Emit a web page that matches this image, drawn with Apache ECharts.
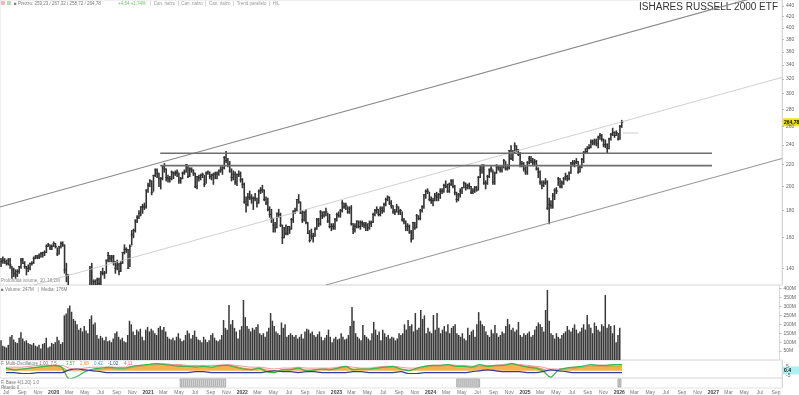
<!DOCTYPE html>
<html><head><meta charset="utf-8">
<script src="https://cdn.jsdelivr.net/npm/echarts@6/dist/echarts.min.js"></script>
<style>html,body{margin:0;padding:0;background:#fff}#c{width:799px;height:395px}</style>
</head><body><div id="c"></div>
<script>
// ---------- DATA ----------
const weekStart = '2019-06-26';   // first weekly bar (one bar per week)
const high = [146,147,146,145,146,146,141,140,139,139,141,146,146,144,141,142,143,144,147,148,148,149,150,150,151,155,156,155,155,157,156,153,154,157,157,155,143,136,115,110,108,117,119,117,123,122,121,122,126,141,143,133,133,134,134,138,140,138,145,150,148,148,148,144,145,143,144,150,155,153,152,155,165,166,173,176,180,183,185,186,197,203,206,205,210,216,216,212,208,219,221,216,210,209,214,213,214,215,212,208,213,215,220,219,217,217,215,212,209,210,211,212,210,213,214,213,211,212,213,213,215,218,218,228,233,226,223,216,214,213,211,214,213,207,203,191,194,196,193,191,194,190,197,199,201,197,191,190,183,181,174,171,178,181,178,169,167,169,168,168,174,180,182,189,193,187,180,179,181,171,165,166,163,167,174,174,180,179,179,182,178,177,170,170,174,178,179,181,188,186,186,183,183,184,170,170,172,172,172,172,171,171,170,172,172,178,181,183,181,183,183,186,190,192,191,188,184,181,185,183,181,179,174,172,170,169,165,171,171,177,176,181,184,193,197,198,195,191,190,194,195,194,198,198,202,205,202,203,206,206,201,195,194,198,199,204,203,202,203,200,198,200,200,209,219,220,220,205,210,216,218,215,213,220,219,218,219,225,223,220,234,239,234,242,239,235,232,223,222,218,223,228,228,226,225,224,217,214,205,205,207,205,190,188,194,198,199,208,207,205,208,212,210,213,222,224,224,226,223,219,226,233,236,238,240,245,245,246,246,249,252,251,246,245,241,247,252,258,254,255,252,261,267];
const low = [141,143,143,142,142,140,134,135,134,135,137,140,143,140,136,138,139,142,143,146,146,146,147,147,148,150,154,152,152,154,153,148,149,153,154,137,132,117,92,96,100,104,112,110,113,115,112,114,120,123,127,124,128,128,129,130,136,134,137,144,144,144,142,137,139,136,138,143,149,150,140,141,155,160,164,171,174,176,178,181,182,195,200,193,196,209,208,200,198,206,213,205,204,204,206,207,210,209,203,203,207,211,213,208,209,213,210,199,198,205,206,208,200,203,211,207,206,202,207,207,210,213,211,216,222,218,213,205,206,202,201,209,204,199,186,179,184,189,186,181,188,183,186,194,195,188,185,180,175,171,164,164,167,175,168,156,160,162,162,163,166,171,178,180,186,178,171,172,170,163,157,159,157,161,166,168,169,174,175,176,171,167,165,166,166,172,175,175,179,182,181,178,178,169,163,164,167,167,166,168,167,165,165,166,168,171,176,178,176,176,178,179,184,188,185,182,178,177,179,177,177,172,170,165,165,163,157,159,166,167,173,173,179,182,190,194,188,186,184,188,188,188,190,194,195,199,195,195,201,199,193,187,188,191,194,199,197,198,198,194,194,195,196,197,208,212,202,198,202,208,213,202,202,212,215,213,213,217,215,215,216,225,224,232,233,229,218,218,214,211,211,221,222,219,220,215,208,202,198,200,202,181,170,182,182,189,194,201,199,199,202,206,205,206,212,219,218,221,212,213,217,222,231,232,236,237,240,240,239,237,246,244,238,237,232,236,245,250,248,250,245,246,259];
const close = [144,145,144,143,145,142,139,137,136,138,141,145,143,141,140,140,143,143,146,147,148,147,149,150,150,154,155,153,154,156,154,149,154,156,155,139,136,119,100,107,102,116,116,113,121,119,114,121,123,140,128,132,130,133,131,137,137,137,145,148,146,147,144,140,142,138,143,150,152,152,140,154,162,165,172,175,178,183,183,183,197,201,205,195,210,215,212,207,207,218,216,208,207,207,213,212,212,213,205,207,212,213,220,209,216,215,212,200,209,208,210,211,202,212,213,209,210,211,211,212,214,215,217,227,224,220,214,208,211,204,211,211,206,202,187,185,191,191,190,190,190,186,196,197,197,189,186,181,177,174,169,167,178,177,169,160,167,163,168,166,173,179,180,189,187,178,173,179,171,163,158,161,161,166,173,170,179,176,179,179,172,168,168,168,173,177,176,180,186,183,184,179,182,170,166,168,172,168,171,170,169,169,167,170,171,177,180,181,177,182,180,185,189,191,186,184,179,179,183,179,180,173,172,168,168,164,159,171,167,176,174,180,183,193,196,196,189,188,188,192,191,193,196,196,201,200,196,202,205,200,195,189,193,196,199,203,199,201,200,195,196,199,197,208,215,219,203,203,209,215,216,204,212,218,217,215,219,224,216,217,234,226,233,239,235,230,220,221,216,213,222,226,224,222,223,216,213,204,201,203,204,182,185,184,192,197,196,207,200,203,207,209,207,212,222,221,222,223,213,218,225,232,233,236,237,243,242,244,241,248,250,246,240,240,236,246,251,253,250,253,246,260,264.78];
const volume = [110,80,75,70,85,130,140,115,100,95,125,155,120,105,110,95,90,85,95,80,75,85,65,90,95,125,70,75,
95,90,100,130,110,90,100,250,
260,290,305,270,230,220,200,170,180,160,190,165,150,
230,250,200,210,140,120,135,125,110,130,105,110,100,120,150,160,130,115,125,105,100,140,220,200,160,140,170,160,175,130,110,
170,185,160,175,165,150,140,180,190,170,185,160,130,120,115,125,110,130,150,120,105,110,140,165,150,120,140,165,130,115,110,100,130,115,100,110,140,150,125,110,105,115,140,224,180,170,308,200,224,180,160,120,
170,190,336,240,190,175,160,180,170,185,200,150,140,150,130,160,180,263,220,190,160,150,140,210,180,200,130,140,150,140,130,140,120,130,145,120,160,175,170,150,160,140,130,145,160,130,110,125,140,170,130,100,
120,130,115,120,150,130,115,120,140,190,297,220,150,130,120,110,196,140,130,120,110,150,213,170,140,160,110,170,150,130,140,120,130,125,110,120,150,140,150,200,170,224,190,200,160,263,170,180,280,230,250,150,
180,160,150,252,170,263,180,150,170,190,160,200,150,180,190,200,150,140,130,150,120,110,180,140,160,170,130,200,268,220,200,190,160,140,130,170,150,196,150,130,140,160,150,190,230,200,170,180,160,170,213,140,130,
150,140,150,160,130,140,170,190,210,200,185,160,280,392,220,150,140,120,150,130,120,140,150,160,190,170,160,180,200,170,150,160,180,200,170,252,200,180,150,210,190,170,160,200,190,364,180,200,190,150,195,100,140,180];

const oscStart = [2019, 6];   // monthly indicator values from July 2019
const oscOrange = [3,2,2,3,4,5, 5,4,0,0,0,1,2,3,2,2,4,5, 6,7,7,6,6,5,5,5,4,5,6,5, 3,2,3,1,0,1,2,3,1,1,2,2, 3,4,2,2,2,3,4,4,2,1,2,4, 5,5,6,5,5,4,5,5,5,6,7,6, 5,4,2,0,1,2,3,4,5,5,5,5, 6];
const oscGreen  = [3,1,2,3,4,5, 6,4,-9,-6,-1,2,3,4,3,3,5,6, 7,8,7,6,5,5,4,5,4,6,6,4, 2,1,3,-1,-2,1,1,3,0,1,2,1, 3,5,1,2,2,3,4,5,2,0,3,5, 6,6,7,5,5,4,7,5,6,6,8,6, 4,3,0,-7,1,3,4,5,7,6,6,7, 7];
const oscBlue   = [-2,-2,-3,-3,-2,-2, -2,-2,1,2,1,0,-1,-2,-2,-2,-2,-2, -2,-2,-2,-2,-2,-2,-1,-1,-2,-2,-2,-2, -2,-2,-2,-1,0,-1,-1,-2,-1,-1,-2,-2, -2,-2,-1,-1,-2,-2,-2,-2,-1,-3,-3,-2, -2,-2,-2,-2,-2,-1,0,1,0,-1,-1,-1, -2,-2,-1,1,0,-1,-2,-2,-2,-2,-2,-2, -2];
const oscRed    = [4,4,4,5,6,6, 6,6,3,2,3,4,4,4,4,4,5,6, 7,8,8,7,7,6,6,6,6,6,7,6, 5,4,4,3,2,3,3,4,3,3,3,3, 4,5,4,3,3,4,5,5,4,3,3,5, 6,6,7,6,6,5,6,6,6,7,8,7, 6,5,4,2,2,3,4,5,6,6,6,6, 7];

const priceTicks = [140,160,180,200,220,240,260,280,300,320,340,360,380,400,420,440];
const volumeTicks = [50,100,150,200,250,300,350,400];
const oscTicks = [-5,5,10];
const lastPrice = 264.78;
const oscLast = 0.4;
const resistanceLevels = [231.3, 219.1];
const resistanceSpan = ['2021-03-01', '2026-12-28'];
const channelUpper = [['2019-06-22', 182.9], ['2027-09-24', 471.9]];
const channelMid   = [['2019-10-30', 130.1], ['2027-09-24', 322.2]];
const channelLower = [['2022-11-30', 130.1], ['2027-09-24', 226.1]];
const trackLine    = [['2026-01-19', 252.7], ['2026-03-18', 252.7]];
const shadedPeriods = [['2021-05-05', '2021-10-29'], ['2024-04-11', '2024-07-09'], ['2025-12-27', '2026-01-08']];
const axisStart = '2019-06-22', axisEnd = '2027-09-24';
const monthNames = ['Jan','Feb','Mar','Apr','May','Jun','Jul','Aug','Sep','Oct','Nov','Dec'];

// ---------- BUILD ----------
const T = s => Date.parse(s + 'T00:00:00Z');
const DAY = 864e5;
const weekDates = high.map((_, i) => T(weekStart) + i * 7 * DAY);
const oscDates = oscOrange.map((_, m) => Date.UTC(oscStart[0], oscStart[1] + m, 15));
const L = Math.log;
const xMin = T(axisStart), xMax = T(axisEnd);

const dateLabels = [];
for (let y = 2019; y <= 2027; y++) for (let m = 0; m < 12; m += 2) {
  const t = Date.UTC(y, m, 1);
  if (t > xMin && t < xMax) dateLabels.push(t);
}

const grids = [
  {left: 0, right: 17, top: 0, height: 285},
  {left: 0, right: 17, top: 285, height: 75},
  {left: 0, right: 17, top: 360, height: 18},
  {left: 0, right: 17, top: 378, height: 10}
].map(g => Object.assign(g, {show: true, borderColor: '#e2e2e2', borderWidth: 1, backgroundColor: 'transparent'}));

const xAxes = grids.map((g, i) => ({
  type: 'value', gridIndex: i, min: xMin, max: xMax,
  axisLine: {show: false}, axisTick: {show: false}, splitLine: {show: false},
  axisLabel: i === 3 ? {
    show: true, customValues: dateLabels, fontSize: 5, color: '#777', margin: 2,
    fontFamily: 'Liberation Sans',
    formatter: v => { const d = new Date(v); const m = d.getUTCMonth();
      return m === 0 ? '{y|' + d.getUTCFullYear() + '}' : monthNames[m]; },
    rich: {y: {fontWeight: 'bold', fontSize: 5, color: '#444'}}
  } : {show: false}
}));

const lblBase = {fontSize: 5, color: '#666', fontFamily: 'Liberation Sans', margin: 4};
const yAxes = [
  {type: 'value', gridIndex: 0, position: 'right', min: L(130.1), max: L(451.7),
   axisLine: {show: true, lineStyle: {color: '#d8d8d8'}},
   axisTick: {show: true, customValues: priceTicks.map(L), length: 2, lineStyle: {color: '#bbb'}},
   axisLabel: Object.assign({customValues: priceTicks.map(L), formatter: v => Math.round(Math.exp(v))}, lblBase),
   splitLine: {show: false}},
  {type: 'value', gridIndex: 1, position: 'right', min: 0, max: 420,
   axisLine: {show: true, lineStyle: {color: '#d8d8d8'}},
   axisTick: {show: true, customValues: volumeTicks, length: 2, lineStyle: {color: '#bbb'}},
   axisLabel: Object.assign({customValues: volumeTicks, formatter: v => v + 'M'}, lblBase),
   splitLine: {show: false}},
  {type: 'value', gridIndex: 2, position: 'right', min: -8, max: 12,
   axisLine: {show: true, lineStyle: {color: '#d8d8d8'}},
   axisTick: {show: false},
   axisLabel: Object.assign({customValues: oscTicks}, lblBase),
   splitLine: {show: false}},
  {type: 'value', gridIndex: 3, position: 'right', min: 0, max: 1,
   axisLine: {show: true, lineStyle: {color: '#d8d8d8'}},
   axisTick: {show: false}, axisLabel: {show: false}, splitLine: {show: false}}
];

const lineSeries = (pts, color, width) => ({
  type: 'line', xAxisIndex: 0, yAxisIndex: 0, symbol: 'none', clip: true, silent: true,
  data: pts.map(p => [T(p[0]), L(p[1])]),
  lineStyle: {color, width}
});

const series = [
  lineSeries(channelUpper, '#8a8a8a', 1.2),
  lineSeries(channelMid, '#c4c4c4', 0.8),
  lineSeries(channelLower, '#9a9a9a', 1.2),
  ...resistanceLevels.map(v => lineSeries([[resistanceSpan[0], v], [resistanceSpan[1], v]], '#6e6e6e', 1.6)),
  lineSeries(trackLine, '#bdbdbd', 0.8),
  {
    type: 'custom', xAxisIndex: 0, yAxisIndex: 0, clip: true,
    data: high.map((h, i) => [weekDates[i], L(h), L(low[i]), L(close[i])]),
    encode: {x: 0, y: [1, 2, 3]},
    renderItem: (params, api) => {
      const t = api.value(0);
      const pH = api.coord([t, api.value(1)]);
      const pL = api.coord([t, api.value(2)]);
      const pC = api.coord([t, api.value(3)]);
      const st = {stroke: '#333', lineWidth: 1.6};
      return {type: 'group', children: [
        {type: 'line', shape: {x1: pH[0], y1: pH[1] - 0.5, x2: pL[0], y2: pL[1] + 0.5}, style: st},
        {type: 'line', shape: {x1: pC[0] - 1, y1: pC[1], x2: pC[0] + 1.6, y2: pC[1]}, style: {stroke: '#333', lineWidth: 1}}
      ]};
    }
  },
  {
    type: 'bar', xAxisIndex: 1, yAxisIndex: 1, barWidth: 1.5,
    data: volume.map((v, i) => [weekDates[i], v]),
    itemStyle: {color: '#383838'}
  },
  {
    type: 'line', xAxisIndex: 2, yAxisIndex: 2, symbol: 'none', smooth: 0.3, clip: true,
    data: oscOrange.map((v, i) => [oscDates[i], v]),
    lineStyle: {color: '#c8842a', width: 0.7},
    areaStyle: {color: '#f6a83a', opacity: 0.9, origin: 0}
  },
  {
    type: 'line', xAxisIndex: 2, yAxisIndex: 2, symbol: 'none', smooth: 0.3, clip: true,
    data: oscRed.map((v, i) => [oscDates[i], v]),
    lineStyle: {color: '#e87a8a', width: 0.8}
  },
  {
    type: 'line', xAxisIndex: 2, yAxisIndex: 2, symbol: 'none', smooth: 0.3, clip: true,
    data: oscGreen.map((v, i) => [oscDates[i], v]),
    lineStyle: {color: '#3fb34f', width: 1.2}
  },
  {
    type: 'line', xAxisIndex: 2, yAxisIndex: 2, symbol: 'none', smooth: 0.3, clip: true,
    data: oscBlue.map((v, i) => [oscDates[i], v]),
    lineStyle: {color: '#2c3f9c', width: 1.2}
  },
  {
    type: 'custom', xAxisIndex: 3, yAxisIndex: 3, clip: true,
    data: shadedPeriods.map(p => [T(p[0]), T(p[1])]),
    encode: {x: [0, 1]},
    renderItem: (params, api) => {
      const a = api.coord([api.value(0), 1]);
      const b = api.coord([api.value(1), 0]);
      const x0 = a[0], x1 = Math.max(b[0], a[0] + 3), y0 = a[1] + 1, y1 = b[1] - 1;
      const kids = [{type: 'rect', shape: {x: x0, y: y0, width: x1 - x0, height: y1 - y0},
        style: {fill: '#d4d4d4', stroke: '#8c8c8c', lineWidth: 0.6}}];
      for (let x = x0 + 1.5; x < x1 - 0.5; x += 2) {
        kids.push({type: 'line', shape: {x1: x, y1: y0 + 1, x2: x, y2: y1 - 1},
          style: {stroke: '#9a9a9a', lineWidth: 0.6}});
      }
      return {type: 'group', children: kids};
    }
  }
];

const tiny = (x, y, text, color, size) => ({type: 'text', x, y, silent: true,
  style: {text, fill: color || '#777', font: (size || 4.5) + 'px "Liberation Sans"', textVerticalAlign: 'top'}});

const chart = echarts.init(document.getElementById('c'), null, {renderer: 'canvas'});
chart.setOption({
  animation: false,
  backgroundColor: '#ffffff',
  grid: grids, xAxis: xAxes, yAxis: yAxes, series
});

// value tags on the right axis, placed through the axis scales
const yPrice = chart.convertToPixel({yAxisIndex: 0}, L(lastPrice));
const yOsc = chart.convertToPixel({yAxisIndex: 2}, oscLast);
const tagRect = (y, bg) => ({type: 'rect', x: 783, y: y - 4, silent: true, shape: {width: 16, height: 8}, style: {fill: bg}});
const tagText = (y, text) => ({type: 'text', x: 784, y: y - 2.5, silent: true,
  style: {text, fill: '#000', font: 'bold 5px "Liberation Sans"', textVerticalAlign: 'top'}});

chart.setOption({graphic: {elements: [
  {type: 'text', x: 778, y: 2, silent: true,
   style: {text: 'ISHARES RUSSELL 2000 ETF', fill: '#333', font: '10px "Liberation Sans"', textAlign: 'right', textVerticalAlign: 'top'}},
  {type: 'rect', x: 1, y: 1, silent: true, shape: {width: 4, height: 4}, style: {fill: '#f3b6c2'}},
  {type: 'rect', x: 7, y: 1, silent: true, shape: {width: 4, height: 4}, style: {fill: '#b8e0b8'}},
  tiny(14, 1, '■ Prezzo: 259,23 / 267,32 / 258,72 / 264,78', '#777'),
  tiny(118, 1, '+4,54 +1,74%', '#6cc26c'),
  tiny(150, 1, '|  Can. rialzo  |  Can. rialzo  |  Can. rialzo  |  Trend parallelo  |  H/L', '#999'),
  tiny(1, 278, 'Profondità volume, 10, 18,2M', '#888'),
  tiny(1, 287, '■ Volume: 247M   |  Media: 176M', '#777'),
  tiny(1, 361, 'F. Multi-Oscillatore 1.00, 7.5', '#777'),
  tiny(66, 361, '3,57', '#3fb34f'), tiny(80, 361, '2,68', '#e8962a'),
  tiny(94, 361, '0,42', '#2c9cc0'), tiny(108, 361, '-1,02', '#2c3f9c'), tiny(124, 361, '4,11', '#e25a6a'),
  tiny(1, 380, 'F. Base 4(1.20) 1.0', '#777'),
  tiny(1, 385, 'Ritardo 0', '#777'),
  tagRect(yPrice, '#f2e600'), tagText(yPrice, String(lastPrice)),
  tagRect(yOsc, '#aef0f2'), tagText(yOsc, String(oscLast))
]}});
</script></body></html>
